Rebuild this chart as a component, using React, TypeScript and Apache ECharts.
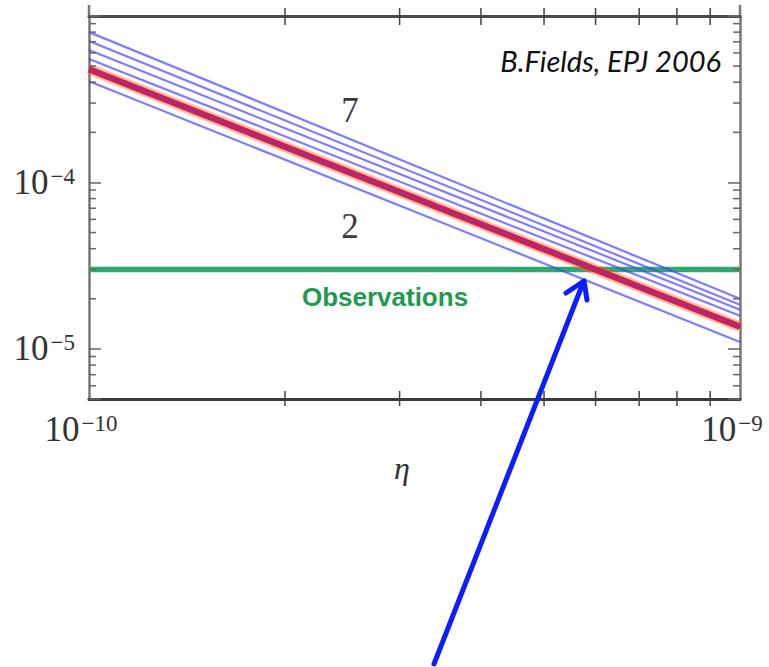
import React, { useEffect, useRef } from "react";
import * as echarts from "echarts";

// ---- data ----
const etaRange = [1e-10, 1e-9];
const dhRange = [5e-6, 1e-3];
const nNuValues = ["7", "6", "5", "4", "3", "2"];
const dhAtEtaMin = [8.0e-4, 7.07e-4, 6.24e-4, 5.51e-4, 4.79e-4, 4.06e-4];
const dhAtEtaMax = [2.0e-5, 1.84e-5, 1.72e-5, 1.58e-5, 1.36e-5, 1.1e-5];
const sbbnBand = [4.79e-4, 1.36e-5];
const observedDH = 3.0e-5;
const xMinorTicks = [2e-10, 3e-10, 4e-10, 5e-10, 6e-10, 7e-10, 8e-10, 9e-10];
const yMinorTicks = [
  6e-6, 7e-6, 8e-6, 9e-6,
  2e-5, 3e-5, 4e-5, 5e-5, 6e-5, 7e-5, 8e-5, 9e-5,
  2e-4, 3e-4, 4e-4, 5e-4, 6e-4, 7e-4, 8e-4, 9e-4,
];

const SERIF = "'Liberation Serif', 'DejaVu Serif', serif";
const FRAME = "#4a4a4a";

function powLabel(v: number, hideExps: number[]) {
  const e = Math.log10(v);
  const r = Math.round(e);
  if (Math.abs(e - r) > 1e-6 || hideExps.indexOf(r) >= 0) return "";
  return `{b|10}{s|−${-r}}`;
}

const richLabel = {
  b: { fontSize: 35, fontFamily: SERIF, color: "#333" },
  s: { fontSize: 23, fontFamily: SERIF, color: "#333", verticalAlign: "top", padding: [0, 0, 0, 2] },
};

export default function App() {
  const ref = useRef<HTMLDivElement>(null);
  useEffect(() => {
    if (!ref.current) return;
    const chart = echarts.init(ref.current, undefined, { renderer: "svg" });

    const blueSeries = nNuValues.map((n, i) => ({
      name: `N_nu = ${n}`,
      type: "line",
      data: [
        [etaRange[0], dhAtEtaMin[i]],
        [etaRange[1], dhAtEtaMax[i]],
      ],
      symbol: "none",
      z: 4,
      lineStyle: { color: "rgba(70,70,255,0.7)", width: 2.2 },
    }));

    const option: any = {
      animation: false,
      backgroundColor: "#ffffff",
      grid: { left: 89, top: 16, width: 651, height: 383, containLabel: false },
      xAxis: [
        {
          type: "log",
          logBase: 10,
          min: etaRange[0],
          max: etaRange[1],
          position: "bottom",
          name: "η",
          nameLocation: "middle",
          nameGap: 46,
          nameTextStyle: {
            fontFamily: SERIF,
            fontStyle: "italic",
            fontSize: 32,
            color: "#333",
            padding: [0, 25, 0, 0],
          },
          axisLine: { show: true, lineStyle: { color: "#3a3a3a", width: 3 } },
          axisTick: { show: false },
          splitLine: { show: false },
          axisLabel: {
            margin: 13,
            padding: [0, 16, 0, 0],
            formatter: (v: number) => powLabel(v, []),
            rich: richLabel,
          },
        },
        {
          type: "log",
          logBase: 10,
          min: etaRange[0],
          max: etaRange[1],
          position: "top",
          axisLine: { show: true, lineStyle: { color: FRAME, width: 3 } },
          axisTick: { show: false },
          axisLabel: { show: false },
          splitLine: { show: false },
        },
      ],
      yAxis: [
        {
          type: "log",
          logBase: 10,
          min: dhRange[0],
          max: dhRange[1],
          position: "left",
          axisLine: { show: true, lineStyle: { color: "#777", width: 2.5 } },
          axisTick: { show: true, inside: true, length: 12, lineStyle: { color: "#666", width: 1.5 } },
          splitLine: { show: false },
          axisLabel: {
            margin: 14,
            formatter: (v: number) => powLabel(v, [-3]),
            rich: richLabel,
          },
        },
        {
          type: "log",
          logBase: 10,
          min: dhRange[0],
          max: dhRange[1],
          position: "right",
          axisLine: { show: true, lineStyle: { color: "#777", width: 2.5 } },
          axisTick: { show: true, inside: true, length: 12, lineStyle: { color: "#666", width: 1.5 } },
          axisLabel: { show: false },
          splitLine: { show: false },
        },
      ],
      series: [
        {
          name: "Observations",
          type: "line",
          data: [
            [etaRange[0], observedDH],
            [etaRange[1], observedDH],
          ],
          symbol: "none",
          z: 3,
          lineStyle: { color: "#2daa6c", width: 5.5 },
        },
        {
          name: "SBBN halo",
          type: "line",
          data: [
            [etaRange[0], sbbnBand[0]],
            [etaRange[1], sbbnBand[1]],
          ],
          symbol: "none",
          z: 3,
          lineStyle: { color: "rgba(255,90,90,0.4)", width: 11 },
        },
        {
          name: "SBBN",
          type: "line",
          data: [
            [etaRange[0], sbbnBand[0]],
            [etaRange[1], sbbnBand[1]],
          ],
          symbol: "none",
          z: 3,
          lineStyle: { color: "#f41818", width: 6.5 },
        },
        ...blueSeries,
        {
          name: "yMinorTicks",
          type: "custom",
          silent: true,
          clip: false,
          z: 6,
          data: yMinorTicks.map((v) => [etaRange[0], v]),
          renderItem: (params: any, api: any) => {
            const p = api.coord([api.value(0), api.value(1)]);
            const cs = params.coordSys;
            const l = cs.x;
            const r = cs.x + cs.width;
            const st = { stroke: "#666", lineWidth: 1.5 };
            return {
              type: "group",
              children: [
                { type: "line", shape: { x1: l, y1: p[1], x2: l + 7, y2: p[1] }, style: st },
                { type: "line", shape: { x1: r - 7, y1: p[1], x2: r, y2: p[1] }, style: st },
              ],
            };
          },
        },
        {
          name: "xMinorTicks",
          type: "custom",
          silent: true,
          clip: false,
          z: 6,
          data: xMinorTicks.map((v) => [v, dhRange[0]]),
          renderItem: (params: any, api: any) => {
            const p = api.coord([api.value(0), api.value(1)]);
            const cs = params.coordSys;
            const t = cs.y;
            const b = cs.y + cs.height;
            const st = { stroke: "#444", lineWidth: 1.5 };
            return {
              type: "group",
              children: [
                { type: "line", shape: { x1: p[0], y1: b - 8, x2: p[0], y2: b + 7 }, style: st },
                { type: "line", shape: { x1: p[0], y1: t - 8, x2: p[0], y2: t + 9 }, style: st },
              ],
            };
          },
        },
      ],
      graphic: [
        { type: "line", shape: { x1: 89, y1: 5, x2: 89, y2: 16 }, style: { stroke: "#777", lineWidth: 2.5 } },
        { type: "line", shape: { x1: 740, y1: 5, x2: 740, y2: 16 }, style: { stroke: "#777", lineWidth: 2.5 } },
        {
          type: "text",
          x: 350,
          y: 110,
          style: { text: "7", font: `35px ${SERIF}`, fill: "#3a3a3a", align: "center", verticalAlign: "middle" },
        },
        {
          type: "text",
          x: 350,
          y: 226,
          style: { text: "2", font: `35px ${SERIF}`, fill: "#3a3a3a", align: "center", verticalAlign: "middle" },
        },
        {
          type: "text",
          x: 721,
          y: 60,
          style: {
            text: "B.Fields, EPJ 2006",
            font: "italic 29px Lato, 'Open Sans', sans-serif",
            fill: "#111",
            align: "right",
            verticalAlign: "middle",
          },
        },
        {
          type: "text",
          x: 385,
          y: 297,
          style: {
            text: "Observations",
            font: "bold 26px 'Liberation Sans', Arial, sans-serif",
            fill: "#1f9a4f",
            align: "center",
            verticalAlign: "middle",
          },
        },
        {
          type: "line",
          z: 20,
          shape: { x1: 434, y1: 664, x2: 583, y2: 283 },
          style: { stroke: "#0a1eff", lineWidth: 5, lineCap: "round" },
        },
        {
          type: "polyline",
          z: 20,
          shape: { points: [[566, 293], [584, 281], [587, 300]] },
          style: { stroke: "#0a1eff", lineWidth: 5, lineCap: "round", lineJoin: "round", fill: "none" },
        },
      ],
    };

    chart.setOption(option);
    return () => chart.dispose();
  }, []);

  return (
    <div
      ref={ref}
      style={{ position: "fixed", left: 0, top: 0, width: 769, height: 667, background: "#fff" }}
    />
  );
}
